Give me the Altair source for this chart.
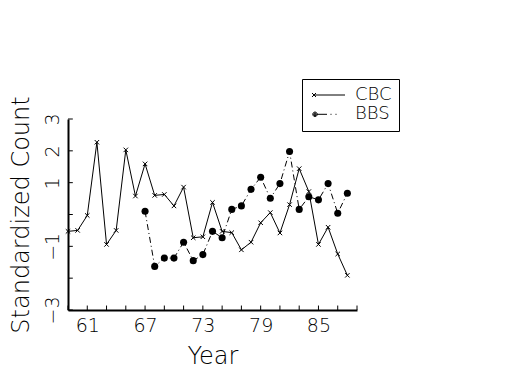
import altair as alt
import pandas as pd

years = list(range(59, 89))
cbc = [-0.53, -0.50, -0.03, 2.27, -0.94, -0.50, 2.03, 0.58, 1.59, 0.60,
       0.63, 0.27, 0.86, -0.73, -0.70, 0.38, -0.53, -0.57, -1.11, -0.87,
       -0.26, 0.06, -0.58, 0.31, 1.44, 0.72, -0.94, -0.40, -1.24, -1.91]
bbs_years = list(range(67, 89))
bbs = [0.10, -1.63, -1.37, -1.37, -0.87, -1.45, -1.26, -0.53, -0.73, 0.16,
       0.27, 0.79, 1.17, 0.51, 0.97, 1.98, 0.16, 0.56, 0.46, 0.97, 0.04, 0.67]

series_names = ["CBC", "BBS"]
x_ticks = list(range(59, 90, 2))
x_labels = [61, 67, 73, 79, 85]
y_ticks = [-3, -2, -1, 0, 1, 2, 3]
y_labels = {3: "3", 2: "2", 1: "1", -1: "\u22121", -3: "\u22123"}

FONT = "DejaVu Sans"

cbc_df = pd.DataFrame({"year": years, "value": cbc, "series": "CBC"})
bbs_df = pd.DataFrame({"year": bbs_years, "value": bbs, "series": "BBS"})
all_df = pd.concat([cbc_df, bbs_df], ignore_index=True)
xt_df = pd.DataFrame({"year": x_ticks, "value": [y_ticks[0]] * len(x_ticks)})
yt_df = pd.DataFrame({"value": y_ticks, "year": [x_ticks[0]] * len(y_ticks)})

x_label_expr = "indexof([" + ",".join(str(v) for v in x_labels) + "], datum.value) >= 0 ? datum.label : ''"
y_label_expr = "".join(f"datum.value == {k} ? '{v}' : " for k, v in y_labels.items()) + "''"

xscale = alt.Scale(domain=[59, 89], nice=False, zero=False)
yscale = alt.Scale(domain=[-3, 3], nice=False, zero=False)

x_enc = alt.X("year:Q", scale=xscale, axis=alt.Axis(
    values=x_ticks, labelExpr=x_label_expr, tickSize=0, title="Year",
    labelFontSize=19, titleFontSize=24, labelPadding=6, titlePadding=9,
    labelFont=FONT, titleFont=FONT, labelFontWeight=200, titleFontWeight=200,
    domainWidth=2, domainColor="black", labelColor="black", titleColor="black",
    grid=False, labelFlush=False, labelOverlap=False))
y_enc = alt.Y("value:Q", scale=yscale, axis=alt.Axis(
    values=y_ticks, labelExpr=y_label_expr, tickSize=0, title="Standardized Count",
    labelFontSize=19, titleFontSize=24, labelPadding=6, titlePadding=10,
    labelAngle=270, labelAlign="center", labelBaseline="bottom",
    labelFont=FONT, titleFont=FONT, labelFontWeight=200, titleFontWeight=200,
    domainWidth=2, domainColor="black", labelColor="black", titleColor="black",
    grid=False, labelFlush=False, labelOverlap=False))

xticks_layer = alt.Chart(xt_df).mark_rule(color="black", strokeWidth=1, opacity=1).encode(
    x=x_enc, y=y_enc, y2=alt.Y2("value2:Q")).transform_calculate(value2="datum.value + 0.14")
yticks_layer = alt.Chart(yt_df).mark_rule(color="black", strokeWidth=1, opacity=1).encode(
    y=y_enc, x=x_enc, x2=alt.X2("year2:Q")).transform_calculate(year2="datum.year + 0.5")

cbc_line = alt.Chart(cbc_df).mark_line(color="black", strokeWidth=1).encode(x=x_enc, y=y_enc)
cbc_pts = alt.Chart(cbc_df).mark_point(
    shape="M-1,-1L1,1M-1,1L1,-1", size=20, color="black", strokeWidth=1, filled=False, opacity=1
).encode(x=x_enc, y=y_enc)
bbs_line = alt.Chart(bbs_df).mark_line(color="black", strokeWidth=1, strokeDash=[6, 3, 1, 3]).encode(x=x_enc, y=y_enc)
bbs_pts = alt.Chart(bbs_df).mark_circle(size=50, color="black", opacity=1).encode(x=x_enc, y=y_enc)


def ring(cx, r):
    return f"M{cx - r},0A{r},{r} 0 1,0 {cx + r},0A{r},{r} 0 1,0 {cx - r},0"


p_cbc = "M-0.8,0L5.4,0M-1.2,-0.4L-0.4,0.4M-1.2,0.4L-0.4,-0.4"
p_bbs = (ring(-0.6, 0.45) + ring(-0.6, 0.27) + ring(-0.6, 0.1)
         + "M-0.2,0L1.8,0M2.5,0L2.7,0M3.5,0L3.7,0")

legend_layer = alt.Chart(all_df).mark_point(
    opacity=0, filled=False, color="black", strokeWidth=1
).encode(
    x=x_enc, y=y_enc,
    shape=alt.Shape("series:N", scale=alt.Scale(domain=series_names, range=[p_cbc, p_bbs]),
                    legend=alt.Legend(orient="none", legendX=234, legendY=-40, title=None,
                                      strokeColor="black", fillColor="white", padding=7,
                                      symbolSize=100, labelOffset=28, labelFontSize=18,
                                      labelFont=FONT, labelFontWeight=200, labelColor="black",
                                      rowPadding=1.3, symbolStrokeColor="black",
                                      symbolStrokeWidth=1, symbolOpacity=1)))

chart = alt.layer(xticks_layer, yticks_layer, cbc_line, bbs_line, cbc_pts, bbs_pts, legend_layer).properties(
    width=289, height=191, autosize="none",
    padding={"left": 60, "top": 111, "right": 160, "bottom": 60},
    background="white"
).configure_view(stroke=None)

chart.save("out.html", embed_options={"renderer": "svg", "actions": False})
